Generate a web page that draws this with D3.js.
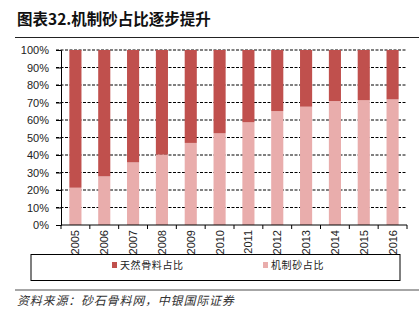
<!DOCTYPE html>
<html>
<head>
<meta charset="utf-8">
<script src="https://cdn.jsdelivr.net/npm/d3@7/dist/d3.min.js"></script>
<style>
  html, body { margin: 0; padding: 0; background: #fff; }
  svg { display: block; }
</style>
</head>
<body>
<div id="chart"></div>
<script>
// Share of manufactured sand vs natural aggregate, 2005-2016 (%)
const years = ["2005","2006","2007","2008","2009","2010","2011","2012","2013","2014","2015","2016"];
const manufacturedShare = [21.3, 27.8, 35.8, 40.2, 46.9, 52.4, 58.7, 65.1, 67.6, 70.8, 71.3, 71.8];
const naturalShare = manufacturedShare.map(v => 100 - v);
const yTicks = [0, 10, 20, 30, 40, 50, 60, 70, 80, 90, 100];
const seriesNames = ["天然骨料占比", "机制砂占比"];
const seriesColors = ["#C0504D", "#E9ADAC"];

const W = 419, H = 322;
const svg = d3.select("#chart").append("svg").attr("width", W).attr("height", H);

const plot = { left: 61, right: 407, top: 50, bottom: 225 };

const x = d3.scaleBand().domain(years).range([plot.left, plot.right]).paddingInner(0.58).paddingOuter(0.29);
const y = d3.scaleLinear().domain([0, 100]).range([plot.bottom, plot.top]);

// Title and rule
svg.append("text")
  .attr("x", 17).attr("y", 25)
  .attr("font-family", "'Noto Sans CJK SC', 'Liberation Sans', sans-serif")
  .attr("font-weight", "bold").attr("font-size", 15.5).attr("fill", "#111")
  .text("图表32.机制砂占比逐步提升");
svg.append("line").attr("x1", 15).attr("x2", W).attr("y1", 37.5).attr("y2", 37.5)
  .attr("stroke", "#222").attr("stroke-width", 1);

// Gridlines
svg.append("g").selectAll("line").data(yTicks.filter(t => t > 0)).join("line")
  .attr("x1", plot.left - 5).attr("x2", plot.right)
  .attr("y1", d => y(d)).attr("y2", d => y(d))
  .attr("stroke", "#000").attr("stroke-width", 1)
  .attr("stroke-dasharray", "3,1.5");

// Stacked bars
const rows = years.map((yr, i) => ({ year: yr, manufactured: manufacturedShare[i], natural: naturalShare[i] }));
const stack = d3.stack().keys(["manufactured", "natural"])(rows);
const colorFor = { manufactured: seriesColors[1], natural: seriesColors[0] };

svg.append("g").selectAll("g").data(stack).join("g")
  .attr("fill", d => colorFor[d.key])
  .selectAll("rect").data(d => d).join("rect")
  .attr("x", d => x(d.data.year))
  .attr("width", x.bandwidth())
  .attr("y", d => y(d[1]))
  .attr("height", d => y(d[0]) - y(d[1]));

// Y axis
const yAxis = svg.append("g").attr("transform", `translate(${plot.left},0)`)
  .call(d3.axisLeft(y).tickValues(yTicks).tickFormat(d => d + "%").tickSize(5).tickPadding(7));
yAxis.select(".domain").attr("stroke", "#000");
yAxis.selectAll(".tick line").attr("stroke", "#000");
yAxis.selectAll("text").attr("font-family", "'Liberation Sans', Arial, sans-serif")
  .attr("font-size", 11).attr("fill", "#222");

// X axis with ticks at category boundaries
const xAxisG = svg.append("g").attr("transform", `translate(0,${plot.bottom})`);
xAxisG.append("line").attr("x1", plot.left).attr("x2", plot.right).attr("y1", 0).attr("y2", 0)
  .attr("stroke", "#000");
const step = x.step();
const boundaries = d3.range(years.length + 1).map(i => plot.left + i * step);
xAxisG.selectAll("line.tk").data(boundaries).join("line").attr("class", "tk")
  .attr("x1", d => d).attr("x2", d => d).attr("y1", 0).attr("y2", 4).attr("stroke", "#000");
xAxisG.selectAll("text").data(years).join("text")
  .attr("transform", d => `translate(${x(d) + x.bandwidth() / 2 + 4},5) rotate(-90)`)
  .attr("text-anchor", "end")
  .attr("font-family", "'Liberation Sans', Arial, sans-serif")
  .attr("font-size", 11).attr("fill", "#222")
  .text(d => d);

// Legend
svg.append("rect").attr("x", 31).attr("y", 254.5).attr("width", 369).attr("height", 26)
  .attr("fill", "none").attr("stroke", "#000").attr("stroke-width", 1);
const legendItems = [
  { name: seriesNames[0], color: seriesColors[0], x: 112 },
  { name: seriesNames[1], color: seriesColors[1], x: 263 }
];
const lg = svg.append("g").selectAll("g").data(legendItems).join("g")
  .attr("transform", d => `translate(${d.x},261)`);
lg.append("rect").attr("width", 5).attr("height", 6).attr("y", 1).attr("fill", d => d.color);
lg.append("text").attr("x", 8).attr("y", 7.5)
  .attr("font-family", "'Noto Sans CJK SC', sans-serif").attr("font-size", 10)
  .attr("letter-spacing", 0.6).attr("fill", "#222")
  .text(d => d.name);

// Source note
svg.append("line").attr("x1", 15).attr("x2", W).attr("y1", 290).attr("y2", 290)
  .attr("stroke", "#888").attr("stroke-width", 1.5);
svg.append("text").attr("x", 17).attr("y", 305)
  .attr("font-family", "'Noto Sans CJK SC', sans-serif").attr("font-style", "italic")
  .attr("font-size", 12).attr("letter-spacing", 0.8).attr("fill", "#333")
  .text("资料来源：砂石骨料网，中银国际证券");
</script>
</body>
</html>
